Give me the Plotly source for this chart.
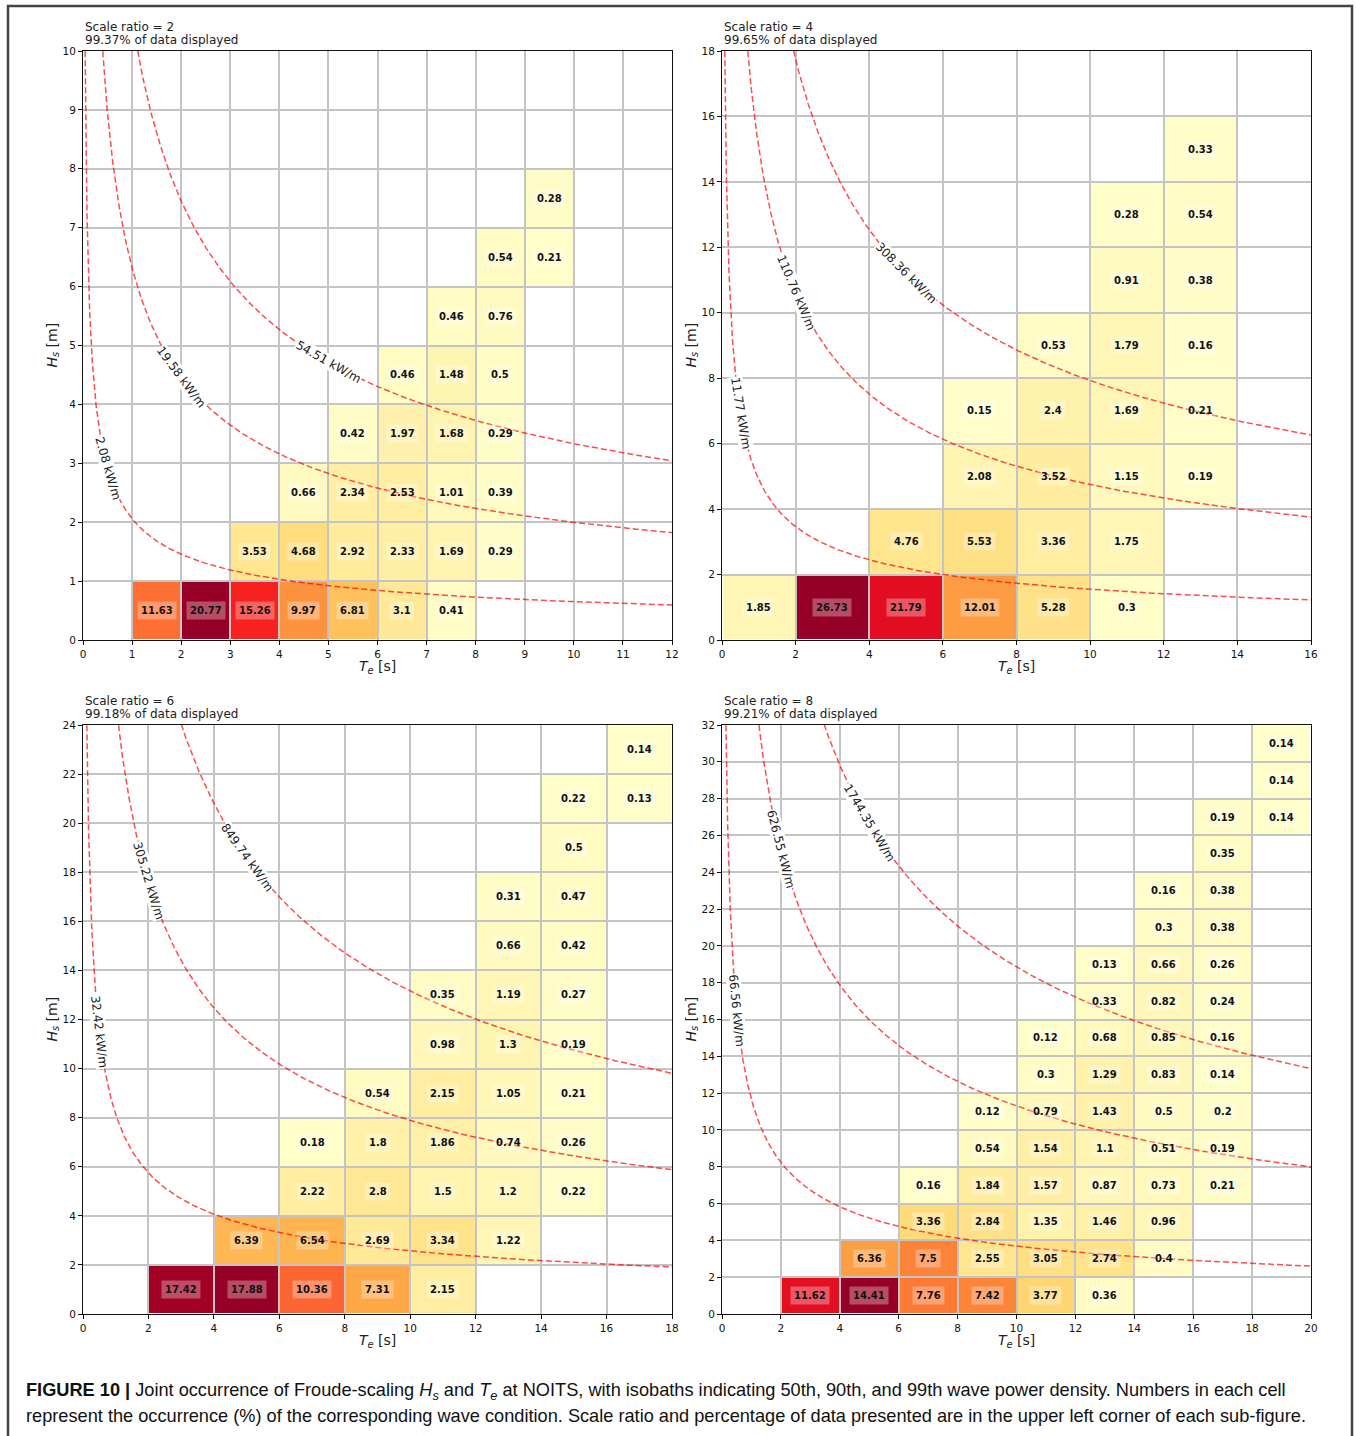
import numpy as np
import plotly.graph_objects as go

W, H = 1356, 1436

# ---------------- data ----------------
SCALE_RATIOS = [2, 4, 6, 8]
PCT_DISPLAYED = ["99.37", "99.65", "99.18", "99.21"]
TE_MAX = [12, 16, 18, 20]
HS_MAX = [10, 18, 24, 32]
BIN_WIDTH = [1, 2, 2, 2]
TICK_STEP = [1, 2, 2, 2]

# isoline wave power levels (kW/m): 50th, 90th, 99th percentiles
ISO_POWER_SR2 = [2.08, 19.58, 54.51]
ISO_POWER_SR4 = [11.77, 110.76, 308.36]
ISO_POWER_SR6 = [32.42, 305.22, 849.74]
ISO_POWER_SR8 = [66.56, 626.55, 1744.35]
ISO_LABEL_TE = [0.5, 2.0, 5.0]  # Te at which inline labels sit

N = None
# occurrence (%) rows from lowest Hs bin upward, columns from lowest Te bin
OCC_SR2 = [
    [N, 11.63, 20.77, 15.26, 9.97, 6.81, 3.1, 0.41, N, N, N, N],
    [N, N, N, 3.53, 4.68, 2.92, 2.33, 1.69, 0.29, N, N, N],
    [N, N, N, N, 0.66, 2.34, 2.53, 1.01, 0.39, N, N, N],
    [N, N, N, N, N, 0.42, 1.97, 1.68, 0.29, N, N, N],
    [N, N, N, N, N, N, 0.46, 1.48, 0.5, N, N, N],
    [N, N, N, N, N, N, N, 0.46, 0.76, N, N, N],
    [N, N, N, N, N, N, N, N, 0.54, 0.21, N, N],
    [N, N, N, N, N, N, N, N, N, 0.28, N, N],
    [N, N, N, N, N, N, N, N, N, N, N, N],
    [N, N, N, N, N, N, N, N, N, N, N, N],
]
OCC_SR4 = [
    [1.85, 26.73, 21.79, 12.01, 5.28, 0.3, N, N],
    [N, N, 4.76, 5.53, 3.36, 1.75, N, N],
    [N, N, N, 2.08, 3.52, 1.15, 0.19, N],
    [N, N, N, 0.15, 2.4, 1.69, 0.21, N],
    [N, N, N, N, 0.53, 1.79, 0.16, N],
    [N, N, N, N, N, 0.91, 0.38, N],
    [N, N, N, N, N, 0.28, 0.54, N],
    [N, N, N, N, N, N, 0.33, N],
    [N, N, N, N, N, N, N, N],
]
OCC_SR6 = [
    [N, 17.42, 17.88, 10.36, 7.31, 2.15, N, N, N],
    [N, N, 6.39, 6.54, 2.69, 3.34, 1.22, N, N],
    [N, N, N, 2.22, 2.8, 1.5, 1.2, 0.22, N],
    [N, N, N, 0.18, 1.8, 1.86, 0.74, 0.26, N],
    [N, N, N, N, 0.54, 2.15, 1.05, 0.21, N],
    [N, N, N, N, N, 0.98, 1.3, 0.19, N],
    [N, N, N, N, N, 0.35, 1.19, 0.27, N],
    [N, N, N, N, N, N, 0.66, 0.42, N],
    [N, N, N, N, N, N, 0.31, 0.47, N],
    [N, N, N, N, N, N, N, 0.5, N],
    [N, N, N, N, N, N, N, 0.22, 0.13],
    [N, N, N, N, N, N, N, N, 0.14],
]
OCC_SR8 = [
    [N, 11.62, 14.41, 7.76, 7.42, 3.77, 0.36, N, N, N],
    [N, N, 6.36, 7.5, 2.55, 3.05, 2.74, 0.4, N, N],
    [N, N, N, 3.36, 2.84, 1.35, 1.46, 0.96, N, N],
    [N, N, N, 0.16, 1.84, 1.57, 0.87, 0.73, 0.21, N],
    [N, N, N, N, 0.54, 1.54, 1.1, 0.51, 0.19, N],
    [N, N, N, N, 0.12, 0.79, 1.43, 0.5, 0.2, N],
    [N, N, N, N, N, 0.3, 1.29, 0.83, 0.14, N],
    [N, N, N, N, N, 0.12, 0.68, 0.85, 0.16, N],
    [N, N, N, N, N, N, 0.33, 0.82, 0.24, N],
    [N, N, N, N, N, N, 0.13, 0.66, 0.26, N],
    [N, N, N, N, N, N, N, 0.3, 0.38, N],
    [N, N, N, N, N, N, N, 0.16, 0.38, N],
    [N, N, N, N, N, N, N, N, 0.35, N],
    [N, N, N, N, N, N, N, N, 0.19, 0.14],
    [N, N, N, N, N, N, N, N, N, 0.14],
    [N, N, N, N, N, N, N, N, N, 0.14],
]

OCC = [OCC_SR2, OCC_SR4, OCC_SR6, OCC_SR8]
ISO_POWER = [ISO_POWER_SR2, ISO_POWER_SR4, ISO_POWER_SR6, ISO_POWER_SR8]

# ---------------- layout / style ----------------
PANEL_X = [(83, 672), (722, 1311), (83, 672), (722, 1311)]
PANEL_Y = [(51, 640), (51, 640), (725, 1314), (725, 1314)]

YLORRD = ['#ffffcc', '#ffeda0', '#fed976', '#feb24c', '#fd8d3c',
          '#fc4e2a', '#f61c1e', '#cf0022', '#960026']
CSCALE = [[k / 8, c] for k, c in enumerate(YLORRD)]

RHO, G = 1025.0, 9.81
K_POW = RHO * G ** 2 / (64 * np.pi) / 1000.0  # kW/m per (m^2 s)

FONT = "DejaVu Sans"

fig = go.Figure()
annotations = []
layout_axes = {}

for i in range(4):
    sfx = "" if i == 0 else str(i + 1)
    xa, ya = "x" + sfx, "y" + sfx
    z = OCC[i]
    bw = BIN_WIDTH[i]
    ny, nx = len(z), len(z[0])
    xedges = np.arange(nx + 1) * bw
    yedges = np.arange(ny + 1) * bw
    zmax = max(v for row in z for v in row if v is not None)

    fig.add_trace(go.Heatmap(
        z=z, x=xedges, y=yedges, colorscale=CSCALE, zmin=0, zmax=zmax,
        showscale=False, xgap=2, ygap=2, xaxis=xa, yaxis=ya, hoverinfo="skip"))

    x0, x1 = PANEL_X[i]
    y0, y1 = PANEL_Y[i]
    pxx = (x1 - x0) / TE_MAX[i]
    pxy = (y1 - y0) / HS_MAX[i]

    # isolines of wave power
    for j, P in enumerate(ISO_POWER[i]):
        te0 = P / (K_POW * (HS_MAX[i] * 1.03) ** 2)
        te = np.geomspace(te0, TE_MAX[i], 400)
        hs = np.sqrt(P / (K_POW * te))
        fig.add_trace(go.Scatter(
            x=te, y=hs, mode="lines", xaxis=xa, yaxis=ya, hoverinfo="skip",
            showlegend=False,
            line=dict(color="rgba(255,0,0,0.7)", width=1.5, dash="6px,3px")))
        tl = ISO_LABEL_TE[j]
        hl = np.sqrt(P / (K_POW * tl))
        ang = float(np.degrees(np.arctan(hl / (2 * tl) * pxy / pxx)))
        annotations.append(dict(
            x=tl, y=hl, xref=xa, yref=ya, text=f"{P:g} kW/m", textangle=ang,
            showarrow=False, bgcolor="white", borderpad=0,
            font=dict(family=FONT, size=12, color="#222")))

    # cell labels
    for r, row in enumerate(z):
        for c, v in enumerate(row):
            if v is None:
                continue
            annotations.append(dict(
                x=(c + 0.5) * bw, y=(r + 0.5) * bw, xref=xa, yref=ya,
                text=f"<b>{v:g}</b>", showarrow=False,
                bgcolor="rgba(255,255,255,0.3)", borderpad=3,
                font=dict(family=FONT, size=10, color="#111")))

    common = dict(showgrid=True, gridcolor="#c4c4c4", gridwidth=1.5,
                  zeroline=False, showline=True, mirror=True, automargin=False,
                  linecolor="#111", linewidth=1, ticks="outside", ticklen=4,
                  tickwidth=1, tickcolor="#111",
                  tickfont=dict(family=FONT, size=10.5, color="#111"))
    layout_axes["xaxis" + sfx] = dict(
        domain=[x0 / W, x1 / W], range=[0, TE_MAX[i]], dtick=TICK_STEP[i],
        tick0=0, anchor=ya, **common)
    layout_axes["yaxis" + sfx] = dict(
        domain=[1 - y1 / H, 1 - y0 / H], range=[0, HS_MAX[i]],
        dtick=TICK_STEP[i], tick0=0, anchor=xa, **common)

    # panel title (two lines)
    for k, line in enumerate([f"Scale ratio = {SCALE_RATIOS[i]}",
                              f"{PCT_DISPLAYED[i]}% of data displayed"]):
        annotations.append(dict(
            x=x0 / W, y=1 - (y0 - 24 + 13 * k) / H, xref="paper", yref="paper",
            xanchor="left", yanchor="middle", align="left", showarrow=False,
            text=line, font=dict(family=FONT, size=12, color="#222")))
    # axis titles
    annotations.append(dict(
        x=(x0 + x1) / 2 / W, y=1 - (y1 + 27) / H, xref="paper", yref="paper",
        xanchor="center", yanchor="middle", showarrow=False,
        text="<i>T<sub>e</sub></i> [s]",
        font=dict(family=FONT, size=14, color="#222")))
    annotations.append(dict(
        x=(x0 - 31) / W, y=1 - (y0 + y1) / 2 / H, xref="paper", yref="paper",
        xanchor="center", yanchor="middle", showarrow=False, textangle=-90,
        text="<i>H<sub>s</sub></i> [m]",
        font=dict(family=FONT, size=14, color="#222")))

CAP_FONT = "Liberation Sans, Arial"
annotations.append(dict(
    x=24 / W, y=1 - 1391 / H, xref="paper", yref="paper", xanchor="left",
    yanchor="middle", showarrow=False,
    text=("<b>FIGURE 10 |</b> Joint occurrence of Froude-scaling <i>H<sub>s</sub></i> "
          "and <i>T<sub>e</sub></i> at NOITS, with isobaths indicating 50th, 90th, "
          "and 99th wave power density. Numbers in each cell"),
    font=dict(family=CAP_FONT, size=18.2, color="#111")))
annotations.append(dict(
    x=24 / W, y=1 - 1416 / H, xref="paper", yref="paper", xanchor="left",
    yanchor="middle", showarrow=False,
    text=("represent the occurrence (%) of the corresponding wave condition. "
          "Scale ratio and percentage of data presented are in the upper left "
          "corner of each sub-figure."),
    font=dict(family=CAP_FONT, size=18.2, color="#111")))

fig.update_layout(
    template="none",
    width=W, height=H, margin=dict(l=0, r=0, t=0, b=0, pad=0),
    paper_bgcolor="white", plot_bgcolor="white", showlegend=False,
    font=dict(family=FONT), annotations=annotations,
    shapes=[dict(type="rect", xref="paper", yref="paper",
                 x0=8 / W, x1=1352 / W, y0=-0.02, y1=1 - 6 / H,
                 line=dict(color="#444", width=2.5), layer="above")],
    **layout_axes)

fig.write_html("out.html")
